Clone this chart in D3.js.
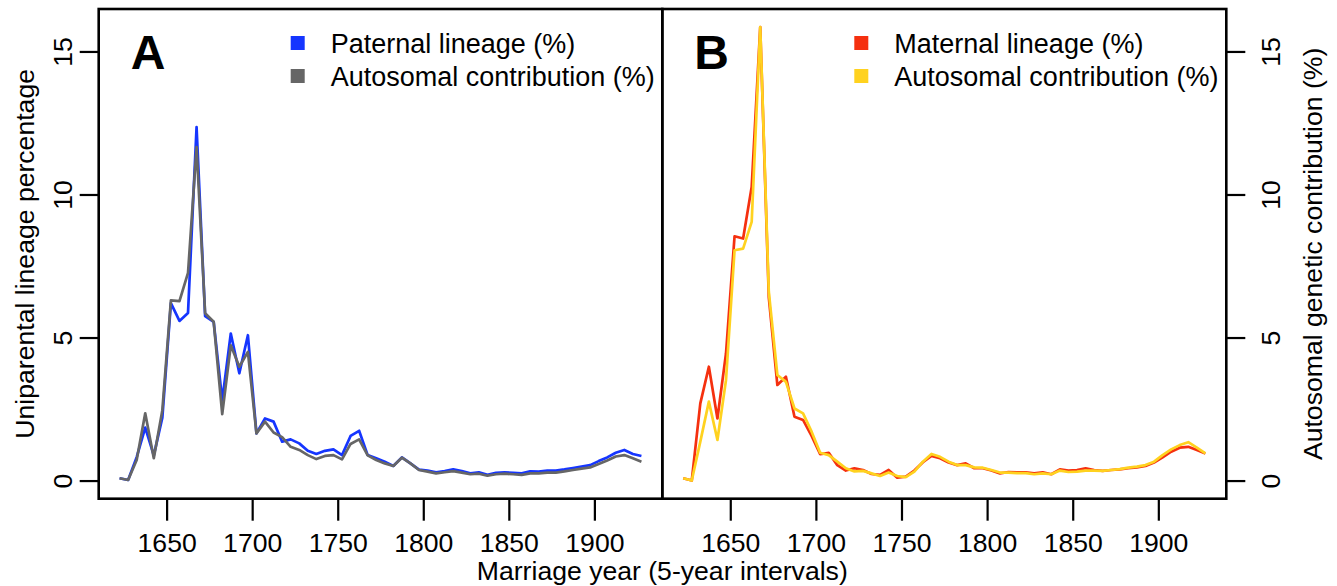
<!DOCTYPE html>
<html>
<head>
<meta charset="utf-8">
<script src="https://cdn.jsdelivr.net/npm/d3@7"></script>
<style>
  body { margin: 0; background: #fff; }
  text { font-family: "Liberation Sans", Arial, sans-serif; fill: #000; }
</style>
</head>
<body>
<div id="chart"></div>
<script>
const width = 1337;
const height = 586;

// marriage year, midpoints of 5-year intervals
const years = d3.range(62).map(i => 1622.5 + 5 * i);

const paternal = [0.08, 0.02, 0.82, 1.85, 0.88, 2.2, 6.2, 5.58, 5.86, 12.36, 5.75, 5.55,
  2.8, 5.14, 3.75, 5.08, 1.65, 2.17, 2.06, 1.36, 1.44, 1.3, 1.04, 0.93, 1.04, 1.09,
  0.89, 1.56, 1.74, 0.89, 0.78, 0.66, 0.51, 0.81, 0.6, 0.38, 0.35, 0.29, 0.33, 0.39,
  0.33, 0.25, 0.29, 0.2, 0.27, 0.29, 0.27, 0.25, 0.32, 0.31, 0.35, 0.35, 0.39, 0.44,
  0.49, 0.54, 0.68, 0.81, 0.97, 1.07, 0.93, 0.86];
const autosomalA = [0.08, 0.02, 0.72, 2.35, 0.78, 2.46, 6.3, 6.27, 7.26, 11.66, 5.85, 5.55,
  2.32, 4.73, 3.98, 4.5, 1.65, 2.06, 1.68, 1.52, 1.18, 1.07, 0.89, 0.75, 0.86, 0.89,
  0.74, 1.28, 1.44, 0.88, 0.72, 0.6, 0.51, 0.8, 0.6, 0.37, 0.31, 0.25, 0.29, 0.33,
  0.28, 0.22, 0.24, 0.17, 0.22, 0.24, 0.22, 0.2, 0.25, 0.25, 0.28, 0.28, 0.32, 0.37,
  0.42, 0.46, 0.58, 0.7, 0.84, 0.89, 0.78, 0.66];
const maternal = [0.08, 0.0, 2.7, 3.98, 2.17, 4.44, 8.54, 8.46, 10.26, 15.85, 6.4, 3.34,
  3.63, 2.23, 2.12, 1.56, 0.92, 0.97, 0.54, 0.35, 0.43, 0.37, 0.23, 0.2, 0.37, 0.1,
  0.14, 0.35, 0.64, 0.86, 0.78, 0.63, 0.54, 0.6, 0.43, 0.43, 0.35, 0.25, 0.3, 0.29,
  0.29, 0.25, 0.29, 0.22, 0.39, 0.35, 0.37, 0.43, 0.37, 0.34, 0.37, 0.39, 0.43, 0.46,
  0.51, 0.63, 0.81, 1.01, 1.15, 1.18, 1.07, 0.95];
const autosomalB = [0.08, 0.0, 1.36, 2.76, 1.42, 3.51, 8.05, 8.11, 9.04, 15.85, 6.6, 3.69,
  3.45, 2.52, 2.35, 1.71, 0.97, 0.89, 0.66, 0.43, 0.32, 0.34, 0.25, 0.16, 0.28, 0.16,
  0.12, 0.31, 0.66, 0.93, 0.83, 0.66, 0.54, 0.54, 0.46, 0.45, 0.37, 0.28, 0.28, 0.26,
  0.26, 0.22, 0.25, 0.22, 0.35, 0.3, 0.31, 0.35, 0.35, 0.34, 0.37, 0.4, 0.45, 0.49,
  0.54, 0.66, 0.89, 1.09, 1.24, 1.34, 1.15, 0.95];

const xTicks = [1650, 1700, 1750, 1800, 1850, 1900];
const yTicks = [0, 5, 10, 15];

const panels = [
  {letter: "A", left: 98.7, right: 662.3, axisSide: "left",
   series: [
     {name: "Paternal lineage (%)", values: paternal, color: "#1535ff"},
     {name: "Autosomal contribution (%)", values: autosomalA, color: "#666666"}]},
  {letter: "B", left: 662.3, right: 1226.3, axisSide: "right",
   series: [
     {name: "Maternal lineage (%)", values: maternal, color: "#f5300f"},
     {name: "Autosomal contribution (%)", values: autosomalB, color: "#ffd21f"}]}
];

const plotTop = 9, plotBottom = 498.7;
const fontSize = 26.6;

// R style axis limits: data range padded by 4%
const pad = (ext) => {
  const r = ext[1] - ext[0];
  return [ext[0] - 0.04 * r, ext[1] + 0.04 * r];
};
const xDomain = pad(d3.extent(years));
const allVals = [].concat(paternal, autosomalA, maternal, autosomalB);
const yDomain = pad([0, d3.max(allVals)]);

const y = d3.scaleLinear().domain(yDomain).range([plotBottom, plotTop]);

const svg = d3.select("#chart")
  .append("svg")
  .attr("width", width)
  .attr("height", height);

panels.forEach(p => {
  const x = d3.scaleLinear().domain(xDomain).range([p.left, p.right]);
  const line = d3.line().x((d, i) => x(years[i])).y(d => y(d));

  const g = svg.append("g");

  p.series.forEach(s => {
    g.append("path")
      .datum(s.values)
      .attr("d", line)
      .attr("fill", "none")
      .attr("stroke", s.color)
      .attr("stroke-width", 2.7)
      .attr("stroke-linejoin", "round");
  });

  // x axis
  const xAxis = d3.axisBottom(x).tickValues(xTicks).tickSize(22).tickPadding(12).tickFormat(d3.format("d"));
  const gx = svg.append("g").attr("transform", `translate(0,${plotBottom})`).call(xAxis);
  gx.select(".domain").remove();
  gx.selectAll("line").attr("stroke", "#000").attr("stroke-width", 2.2);
  gx.selectAll("text").attr("font-size", fontSize).attr("font-family", "Liberation Sans, Arial, sans-serif")
    .attr("fill", "#000").attr("dy", "0.71em");

  // box
  svg.append("rect")
    .attr("x", p.left).attr("y", plotTop)
    .attr("width", p.right - p.left).attr("height", plotBottom - plotTop)
    .attr("fill", "none").attr("stroke", "#000").attr("stroke-width", 2.6);

  // y axis
  const yAxis = p.axisSide === "left" ? d3.axisLeft(y) : d3.axisRight(y);
  yAxis.tickValues(yTicks).tickSize(19).tickFormat(d3.format("d"));
  const gy = svg.append("g")
    .attr("transform", `translate(${p.axisSide === "left" ? p.left : p.right},0)`)
    .call(yAxis);
  gy.select(".domain").remove();
  gy.selectAll("line").attr("stroke", "#000").attr("stroke-width", 2.2);
  const off = p.axisSide === "left" ? -36 : 44;
  gy.selectAll("text")
    .attr("x", null).attr("dy", null)
    .attr("text-anchor", "middle")
    .attr("font-size", fontSize).attr("font-family", "Liberation Sans, Arial, sans-serif")
    .attr("fill", "#000")
    .attr("transform", `translate(${off},0) rotate(-90) translate(0,9.5)`);

  // panel letter
  svg.append("text")
    .attr("x", p.left + 32).attr("y", 69)
    .attr("font-size", 48).attr("font-weight", "bold")
    .text(p.letter);

  // legend
  p.series.forEach((s, i) => {
    const cy = 43 + i * 33;
    svg.append("rect")
      .attr("x", p.left + 192).attr("y", cy - 7)
      .attr("width", 14).attr("height", 14)
      .attr("fill", s.color);
    svg.append("text")
      .attr("x", p.left + 232).attr("y", cy + 9.5)
      .attr("font-size", 27)
      .text(s.name);
  });
});

// axis titles
svg.append("text")
  .attr("transform", `translate(34,${(plotTop + plotBottom) / 2}) rotate(-90)`)
  .attr("text-anchor", "middle")
  .attr("font-size", fontSize)
  .text("Uniparental lineage percentage");

svg.append("text")
  .attr("transform", `translate(1322,${(plotTop + plotBottom) / 2}) rotate(-90)`)
  .attr("text-anchor", "middle")
  .attr("font-size", fontSize)
  .text("Autosomal genetic contribution (%)");

svg.append("text")
  .attr("x", 662.3).attr("y", 580)
  .attr("text-anchor", "middle")
  .attr("font-size", fontSize)
  .text("Marriage year (5-year intervals)");
</script>
</body>
</html>
